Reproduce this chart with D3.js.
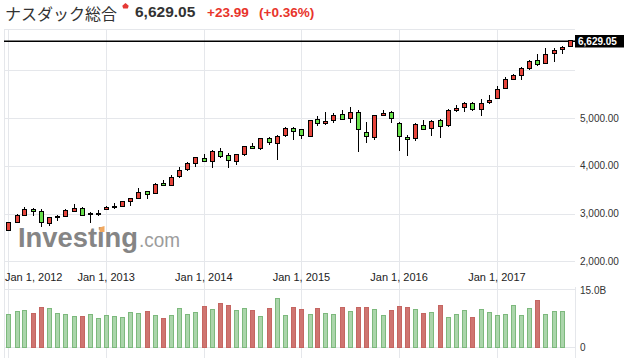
<!DOCTYPE html>
<html><head><meta charset="utf-8">
<script src="https://cdn.jsdelivr.net/npm/d3@7"></script>
<style>html,body{margin:0;padding:0;background:#fff;} svg{display:block;}</style>
</head><body><svg id="c" width="624" height="364"></svg>
<script>
// ---- data ----
const months = ["2012-01","2012-02","2012-03","2012-04","2012-05","2012-06","2012-07","2012-08","2012-09","2012-10","2012-11","2012-12",
"2013-01","2013-02","2013-03","2013-04","2013-05","2013-06","2013-07","2013-08","2013-09","2013-10","2013-11","2013-12",
"2014-01","2014-02","2014-03","2014-04","2014-05","2014-06","2014-07","2014-08","2014-09","2014-10","2014-11","2014-12",
"2015-01","2015-02","2015-03","2015-04","2015-05","2015-06","2015-07","2015-08","2015-09","2015-10","2015-11","2015-12",
"2016-01","2016-02","2016-03","2016-04","2016-05","2016-06","2016-07","2016-08","2016-09","2016-10","2016-11","2016-12",
"2017-01","2017-02","2017-03","2017-04","2017-05","2017-06","2017-07","2017-08","2017-09","2017-10"];
const open = [2657.39,2820.34,2968.70,3095.36,3055.09,2812.39,2938.13,2944.42,3063.21,3113.10,2988.96,3015.81,
3091.33,3143.18,3162.26,3268.63,3334.35,3463.64,3433.04,3637.62,3607.23,3787.62,3927.12,4062.68,
4160.03,4098.73,4306.42,4232.03,4105.99,4247.73,4411.91,4367.02,4585.17,4487.04,4639.44,4791.39,
4760.24,4631.82,4970.45,4889.43,4952.38,5084.71,5003.82,5136.37,4715.55,4609.42,5069.09,5119.09,
4897.65,4606.89,4582.21,4860.81,4784.53,4957.09,4847.34,5164.13,5221.13,5316.59,5186.22,5328.40,
5425.62,5628.99,5823.85,5903.71,6055.18,6211.84,6150.87,6362.26,6442.87,6498.91];
const high = [2815.31,2988.41,3134.17,3119.70,3093.72,2937.33,2965.90,3085.81,3196.93,3137.76,3023.22,3075.52,
3154.24,3213.60,3270.30,3331.71,3532.04,3477.93,3632.32,3694.19,3797.89,3966.71,4071.55,4177.73,
4246.55,4322.93,4371.71,4276.86,4246.55,4409.62,4485.93,4580.27,4610.57,4641.51,4810.86,4814.95,
4777.01,4967.55,5042.14,5119.83,5111.54,5164.36,5231.94,5175.47,4916.91,5061.64,5176.77,5157.77,
4926.73,4637.61,4888.94,4969.34,4951.07,4979.80,5179.87,5271.36,5342.88,5342.88,5398.92,5487.44,
5663.55,5867.89,5928.06,6075.79,6221.99,6341.70,6460.84,6460.84,6507.00,6640.00];
const low = [2627.16,2798.95,2943.54,2951.10,2726.68,2747.00,2837.20,2934.51,3049.90,2961.94,2810.80,2951.41,
3091.33,3105.36,3154.58,3154.96,3318.36,3294.95,3426.47,3588.66,3586.04,3740.01,3895.58,3979.10,
4083.64,3946.03,4159.49,3946.03,4008.93,4211.45,4342.20,4328.38,4431.68,4116.60,4603.17,4547.00,
4563.11,4613.95,4825.93,4862.92,4900.78,4975.50,4902.27,4292.14,4487.17,4542.03,5034.31,4898.06,
4313.39,4209.76,4520.50,4759.49,4621.51,4574.25,4816.41,5136.37,5125.08,5153.00,5034.41,5303.72,
5397.99,5611.15,5805.15,5805.15,5996.81,6089.46,6137.93,6177.19,6331.33,6496.00];
const close = [2813.84,2966.89,3091.57,3046.36,2827.34,2935.05,2939.52,3066.96,3116.23,2977.23,3010.24,3019.51,
3142.13,3160.19,3267.52,3328.79,3455.91,3403.25,3626.37,3589.87,3771.48,3919.71,4059.89,4176.59,
4103.88,4308.12,4198.99,4114.56,4242.62,4408.18,4369.77,4580.27,4493.39,4630.74,4791.63,4736.05,
4635.24,4963.53,4900.88,4941.42,5070.03,4986.87,5128.28,4776.51,4620.16,5053.75,5108.67,5007.41,
4613.95,4557.95,4869.85,4775.36,4948.05,4842.67,5162.13,5213.22,5312.00,5189.14,5323.68,5383.12,
5614.79,5825.44,5911.74,6047.61,6198.52,6140.42,6348.12,6428.66,6495.96,6629.05];
// volume in billions (last month not shown)
const volume = [8.7,9.4,9.7,9.0,10.5,10.2,8.9,8.7,8.2,8.2,8.7,7.6,
8.4,8.2,7.9,9.2,8.9,9.5,8.4,7.6,8.4,10.3,8.7,9.2,
10.8,10.0,11.6,11.1,9.7,10.3,9.7,8.2,10.3,12.9,8.4,10.5,
10.0,8.7,10.3,8.9,8.7,10.5,9.5,10.5,10.5,10.0,8.4,9.7,
10.8,10.5,10.0,8.9,9.2,11.1,7.9,8.7,9.7,7.9,10.0,9.2,
8.4,8.7,11.1,8.4,10.3,12.4,8.7,9.5,9.5,null];
const yTicks = [2000,3000,4000,5000,6000];
const yTickLabels = ["2,000.00","3,000.00","4,000.00","5,000.00",""];
const xTicks = ["2012-01-01","2013-01-01","2014-01-01","2015-01-01","2016-01-01","2017-01-01"];
const xTickLabels = ["Jan 1, 2012","Jan 1, 2013","Jan 1, 2014","Jan 1, 2015","Jan 1, 2016","Jan 1, 2017"];
const lastPrice = 6629.05, lastPriceLabel = "6,629.05";
const volTicks = [0, 15], volTickLabels = ["0","15.0B"];
const title = "ナスダック総合", change = "+23.99", changePct = "(+0.36%)";

// ---- chart ----
const svg = d3.select("#c");
const FONT = "'Liberation Sans', Arial, sans-serif";
const L = 4, R = 575, TOP = 29, BOT = 358;
const parseM = d3.timeParse("%Y-%m"), parseD = d3.timeParse("%Y-%m-%d");
const dates = months.map(parseM);
const x = d3.scaleTime().domain([new Date(2011,11,16), new Date(2017,9,20)]).range([L, R]);
const y = d3.scaleLinear().domain([2000, 6000]).range([261.3, 70.3]);
const yv = d3.scaleLinear().domain([0, 15]).range([347, 290]);
const grid = "#e5e7eb";

// gridlines
const g = svg.append("g");
g.selectAll(".hg").data(yTicks).join("line")
  .attr("x1", L).attr("x2", R)
  .attr("y1", d => Math.round(y(d)) + 0.5).attr("y2", d => Math.round(y(d)) + 0.5)
  .attr("stroke", grid);
g.selectAll(".vg").data(xTicks.map(parseD)).join("line")
  .attr("x1", d => Math.round(x(d)) + 0.5).attr("x2", d => Math.round(x(d)) + 0.5)
  .attr("y1", TOP).attr("y2", BOT).attr("stroke", grid);
// borders
const lines = [[L, TOP + 0.5, R, TOP + 0.5], [L + 0.5, TOP, L + 0.5, BOT], [L, 289.5, R, 289.5],
  [L, Math.round(yv(0)) + 0.5, R, Math.round(yv(0)) + 0.5], [R + 0.5, 287, R + 0.5, BOT]];
g.selectAll(".bd").data(lines).join("line")
  .attr("x1", d => d[0]).attr("y1", d => d[1]).attr("x2", d => d[2]).attr("y2", d => d[3])
  .attr("stroke", grid);

// watermark
const wm = svg.append("g");
wm.append("text").attr("x", 18).attr("y", 247).attr("font-family", FONT).attr("font-weight", "bold")
  .attr("font-size", 28).attr("fill", "#858585").attr("textLength", 120).attr("lengthAdjust", "spacingAndGlyphs")
  .text("Investing");
wm.append("path").attr("d", "M99.5,227.5 L104.5,226 L104.5,232 L99.5,232 Z").attr("fill", "#f0a860");
wm.append("text").attr("x", 139).attr("y", 247).attr("font-family", FONT)
  .attr("font-size", 21).attr("fill", "#9c9c9c").attr("textLength", 41).attr("lengthAdjust", "spacingAndGlyphs")
  .text(".com");

// axis labels
svg.append("g").selectAll("text").data(yTicks.map((d, i) => [d, yTickLabels[i]]).filter(d => d[1]))
  .join("text").attr("x", 580).attr("y", d => y(d[0])).attr("dy", "0.35em")
  .attr("font-family", FONT).attr("font-size", 10).attr("fill", "#333").text(d => d[1]);
svg.append("g").selectAll("text").data(volTicks.map((d, i) => [d, volTickLabels[i]]))
  .join("text").attr("x", 580).attr("y", d => yv(d[0]) + 0.5).attr("dy", "0.35em")
  .attr("font-family", FONT).attr("font-size", 10).attr("fill", "#333").text(d => d[1]);
const xl = svg.append("g").selectAll("text").data(xTicks.map((d, i) => [parseD(d), xTickLabels[i]]))
  .join("text").attr("y", 281).attr("font-family", FONT).attr("font-size", 11).attr("fill", "#222")
  .text(d => d[1]);
xl.each(function(d) {
  const w = this.getComputedTextLength();
  let left = x(d[0]) - w / 2;
  if (left < 5) left = 5;
  d3.select(this).attr("x", left);
});

// volume bars
const vg = svg.append("g");
vg.selectAll("rect").data(d3.range(months.length).filter(i => volume[i] != null)).join("rect")
  .attr("x", i => Math.round(x(dates[i])) - 1.5)
  .attr("width", 4)
  .attr("y", i => Math.round(yv(volume[i])) + 0.5)
  .attr("height", i => Math.round(yv(0)) - Math.round(yv(volume[i])))
  .attr("fill", i => close[i] >= open[i] ? "#abd5ab" : "#cf7571")
  .attr("stroke", i => close[i] >= open[i] ? "#7db97d" : "#c56662");

// last price line
const ly = y(lastPrice) + 1.2;
svg.append("rect").attr("x", L).attr("y", Math.round(ly) - 0.5).attr("width", R - L).attr("height", 1.5).attr("fill", "#000");

// candles
const cg = svg.append("g");
const idx = d3.range(months.length);
cg.selectAll("line").data(idx).join("line")
  .attr("x1", i => Math.round(x(dates[i])) + 0.5).attr("x2", i => Math.round(x(dates[i])) + 0.5)
  .attr("y1", i => Math.round(y(high[i]))).attr("y2", i => Math.round(y(low[i])))
  .attr("stroke", "#000");
cg.selectAll("rect").data(idx).join("rect")
  .attr("x", i => Math.round(x(dates[i])) - 1.5)
  .attr("width", 4)
  .attr("y", i => Math.round(y(Math.max(open[i], close[i]))) + 0.5)
  .attr("height", i => Math.max(1, Math.round(y(Math.min(open[i], close[i]))) - Math.round(y(Math.max(open[i], close[i])))))
  .attr("fill", i => close[i] >= open[i] ? "#e6443b" : "#68e04b")
  .attr("stroke", "#000");

// last price label
svg.append("rect").attr("x", 575).attr("y", Math.round(ly) - 6).attr("width", 49).attr("height", 12.5).attr("fill", "#000");
svg.append("text").attr("x", 578).attr("y", Math.round(ly) + 0.3).attr("dy", "0.35em").attr("font-family", FONT)
  .attr("font-size", 10).attr("font-weight", "bold").attr("fill", "#fff").text(lastPriceLabel);

// title
svg.append("text").attr("x", 5).attr("y", 19.5).attr("font-family", "'Noto Sans CJK JP', sans-serif")
  .attr("font-size", 16).attr("fill", "#333").text(title);
svg.append("path").attr("d", "M125.5,3 L128.7,5.8 L127.8,8.6 L123.2,8.6 L122.3,5.8 Z").attr("fill", "#e53935");
svg.append("text").attr("x", 135).attr("y", 17).attr("font-family", FONT).attr("font-weight", "bold")
  .attr("font-size", 15.5).attr("fill", "#333").text(lastPriceLabel);
svg.append("text").attr("x", 207).attr("y", 17).attr("font-family", FONT).attr("font-weight", "bold")
  .attr("font-size", 13.5).attr("fill", "#e8342b").text(change);
svg.append("text").attr("x", 259).attr("y", 17).attr("font-family", FONT).attr("font-weight", "bold")
  .attr("font-size", 13.5).attr("fill", "#e8342b").text(changePct);
</script>
</body></html>
